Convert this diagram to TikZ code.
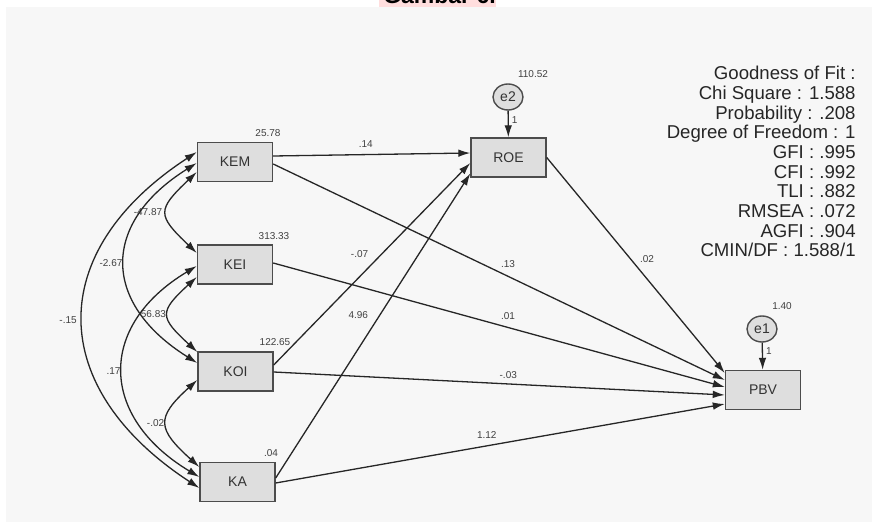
\documentclass[tikz,border=0pt]{standalone}
\usepackage{fontspec}
\setmainfont{Liberation Sans}
\usetikzlibrary{calc,shapes.geometric,arrows.meta}
\definecolor{bggray}{HTML}{F7F7F7}
\definecolor{titlepink}{HTML}{FFDEDE}
\begin{document}
\begin{tikzpicture}[x=0.5pt,y=-0.5pt]

      \tikzset{var/.style={draw=black!70, fill=black!13, line width=.7pt, minimum width=37.5pt, minimum height=19.5pt, inner sep=0pt, font=\fontsize{7}{8}\selectfont, text=black!80},
               err/.style={draw=black!70, fill=black!13, line width=.7pt, ellipse, minimum width=15pt, minimum height=13pt, inner sep=0pt, font=\fontsize{7}{8}\selectfont, text=black!80},
               num/.style={font=\fontsize{5}{6}\selectfont, text=black!75, inner sep=1pt},
               reg/.style={->, >={Latex[length=6pt,width=3.8pt]}, line width=.65pt, color=black!85},
               cov/.style={<->, >={Latex[length=6pt,width=3.8pt]}, line width=.65pt, color=black!85}}
      \useasboundingbox (0,0) rectangle (872,523);
      \clip (0,0) rectangle (872,523);
%% Background
      	\fill[bggray] (5.5,7.3) rectangle (872,522);
      	\fill[titlepink] (379,-20) rectangle (496,7.3);
      	\node[font=\fontsize{11.5}{13}\selectfont\bfseries, anchor=base, inner sep=0pt] (title) at (439.5,4) {Gambar 6.};
%% Variables
      	\node[var] (kem) at (235,162) {KEM};
      	\node[var] (kei) at (235,264.5) {KEI};
      	\node[var] (koi) at (235.5,371.5) {KOI};
      	\node[var] (ka) at (237.5,482) {KA};
      	\node[var] (roe) at (508.5,157.5) {ROE};
      	\node[var] (pbv) at (763,390) {PBV};
      	\node[err] (e2) at (508,97) {e2};
      	\node[err] (e1) at (762,329) {e1};
%% Variances
      	\node[num] (vkem) at (268,133) {25.78};
      	\node[num] (vkei) at (274,236) {313.33};
      	\node[num] (vkoi) at (275,342) {122.65};
      	\node[num] (vka) at (271,453) {.04};
      	\node[num] (ve2) at (533,74) {110.52};
      	\node[num] (ve1) at (782,306) {1.40};
%% Fit
      	\node[anchor=north east, align=right, inner sep=0pt, font=\fontsize{9.3}{9.83}\selectfont, text=black!85] (fit) at (856,66)
      	  {Goodness of Fit :\\Chi Square : 1.588\\Probability : .208\\Degree of Freedom : 1\\GFI : .995\\CFI : .992\\TLI : .882\\RMSEA : .072\\AGFI : .904\\CMIN/DF : 1.588/1};
%Regressions
		\path [reg] ($(kem.east)+(0,-6)$) edge node[num, pos=.47, above=2pt] (wkemroe) {.14} ($(roe.west)+(0,-4.5)$);
		\path [reg] ($(kem.east)+(0,2)$) edge node[num, pos=.52, above=3pt] (wkempbv) {.13} ($(pbv.west)+(0,-10)$);
		\path [reg] ($(kei.east)+(0,-1.5)$) edge node[num, pos=.52, above=2.5pt] (wkeipbv) {.01} ($(pbv.west)+(0,-3)$);
		\path [reg] ($(koi.east)+(0,-6.5)$) edge node[num, pos=.55, left=5.5pt] (wkoiroe) {-.07} ($(roe.west)+(0,5.5)$);
		\path [reg] ($(koi.east)+(0,.5)$) edge node[num, pos=.52, above=1.2pt] (wkoipbv) {-.03} ($(pbv.west)+(0,5)$);
		\path [reg] ($(ka.east)+(0,-4)$) edge node[num, pos=.535, left=4.6pt] (wkaroe) {4.96} ($(roe.west)+(0,16)$);
		\path [reg] ($(ka.east)+(0,1)$) edge node[num, pos=.47, above=2.2pt] (wkapbv) {1.12} ($(pbv.west)+(0,14)$);
		\path [reg] (roe.east) edge node[num, pos=.47, right=3.5pt] (wroepbv) {.02} ($(pbv.west)+(0,-17)$);
		\path [reg] (e2) edge node[num, pos=.35, right=.5pt] (we2) {1} (roe);
		\path [reg] (e1) edge node[num, pos=.32, right=.5pt] (we1) {1} (pbv);
%Covariances
		\draw [cov] ($(kem.west)+(0,10)$) .. controls +(-40,38) and +(-40,-38) .. ($(kei.west)+(0,-11.5)$) node[num, pos=.5, left=1pt] (ckemkei) {-47.87};
		\draw [cov] ($(kem.west)+(0,1)$) .. controls +(-96,60) and +(-96,-60) .. ($(koi.west)+(0,-8.5)$) node[num, pos=.5, left] (ckemkoi) {-2.67};
		\draw [cov] ($(kem.west)+(0,-10)$) .. controls +(-153,100) and +(-153,-100) .. ($(ka.west)+(0,6)$) node[num, pos=.5, left=2pt] (ckemka) {-.15};
		\draw [cov] ($(kei.west)+(0,12.5)$) .. controls +(-38,35) and +(-38,-35) .. ($(koi.west)+(0,-19.5)$) node[num, pos=.5, left] (ckeikoi) {56.83};
		\draw [cov] ($(kei.west)+(0,1.5)$) .. controls +(-100,60) and +(-100,-60) .. ($(ka.west)+(0,-5)$) node[num, pos=.5, left] (ckeika) {.17};
		\draw [cov] ($(koi.west)+(0,8.5)$) .. controls +(-42,38) and +(-42,-38) .. ($(ka.west)+(0,-15)$) node[num, pos=.5, left] (ckoika) {-.02};

	\end{tikzpicture}
\end{document}
